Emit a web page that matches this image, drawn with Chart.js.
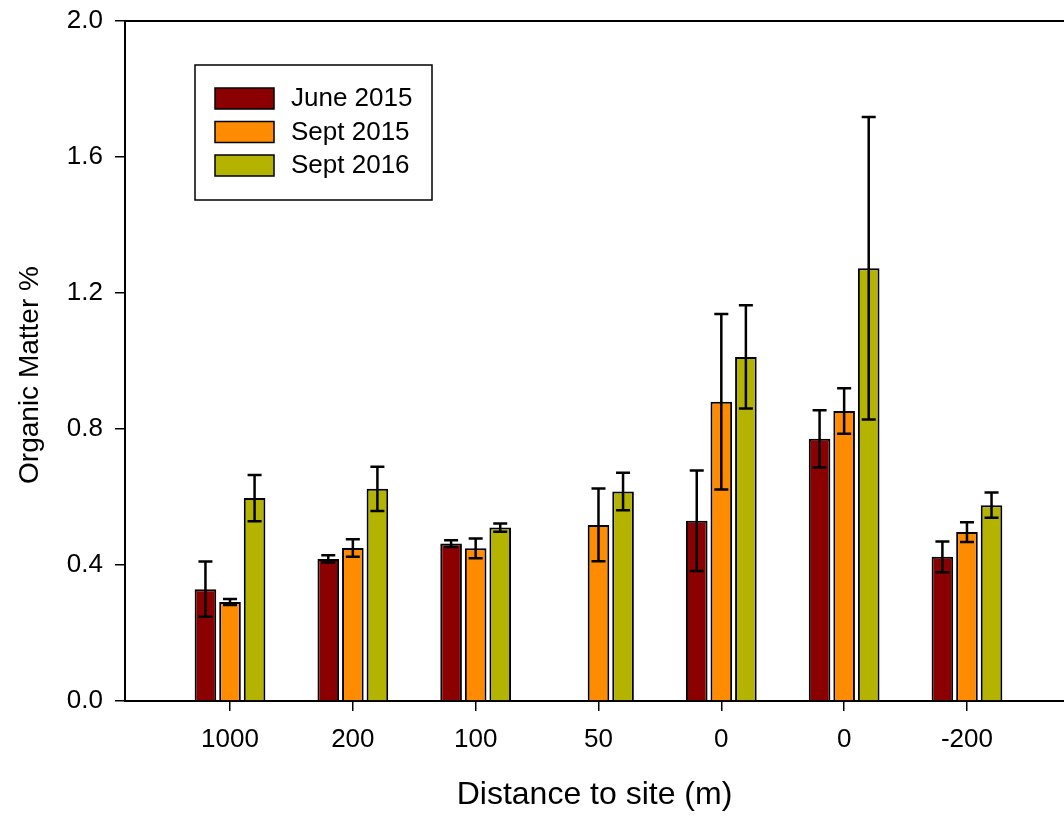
<!DOCTYPE html>
<html>
<head>
<meta charset="utf-8">
<title>Organic Matter %</title>
<script src="https://cdn.jsdelivr.net/npm/chart.js@4"></script>
<style>
  html, body { margin: 0; padding: 0; background: #fff; }
  #wrap { width: 1064px; height: 817px; }
</style>
</head>
<body>
<div id="wrap"><canvas id="chart" width="1064" height="817"></canvas></div>
<script>
// Distance classes along the x axis (the "0" site appears twice)
const categories = ['1000', '200', '100', '50', '0', '0', '-200'];

// Organic matter (%) means and their error half-widths
const june2015 = [0.329, 0.418, 0.463, null, 0.53, 0.771, 0.424];
const june2015Err = [0.081, 0.011, 0.01, null, 0.148, 0.084, 0.045];
const sept2015 = [0.291, 0.45, 0.449, 0.518, 0.88, 0.853, 0.497];
const sept2015Err = [0.009, 0.026, 0.029, 0.107, 0.258, 0.067, 0.029];
const sept2016 = [0.597, 0.624, 0.51, 0.616, 1.012, 1.273, 0.576];
const sept2016Err = [0.068, 0.065, 0.012, 0.055, 0.152, 0.445, 0.037];

const yTicks = [0, 0.4, 0.8, 1.2, 1.6, 2.0];

const FONT = "'Liberation Sans', Arial, sans-serif";

function toPoints(values) {
  return values.map((v, i) => ({ x: i + 1, y: v }));
}

const series = [
  { label: 'June 2015', values: june2015, err: june2015Err, color: '#8b0000' },
  { label: 'Sept 2015', values: sept2015, err: sept2015Err, color: '#ff8c00' },
  { label: 'Sept 2016', values: sept2016, err: sept2016Err, color: '#b4b400' }
];

// error bars with caps at both ends
const errorBars = {
  id: 'errorBars',
  afterDatasetsDraw(chart) {
    const ctx = chart.ctx;
    const y = chart.scales.y;
    ctx.save();
    ctx.strokeStyle = '#000';
    ctx.lineWidth = 2.5;
    chart.data.datasets.forEach((ds, di) => {
      const meta = chart.getDatasetMeta(di);
      meta.data.forEach((bar, i) => {
        const v = series[di].values[i];
        const e = series[di].err[i];
        if (v == null || e == null) return;
        const top = y.getPixelForValue(v + e);
        const bot = y.getPixelForValue(v - e);
        const half = 7;
        ctx.beginPath();
        ctx.moveTo(bar.x, top);
        ctx.lineTo(bar.x, bot);
        ctx.moveTo(bar.x - half, top);
        ctx.lineTo(bar.x + half, top);
        ctx.moveTo(bar.x - half, bot);
        ctx.lineTo(bar.x + half, bot);
        ctx.stroke();
      });
    });
    ctx.restore();
  }
};

// top frame line, y axis title and the boxed legend inside the plot
const frameAndLegend = {
  id: 'frameAndLegend',
  afterDraw(chart) {
    const ctx = chart.ctx;
    const a = chart.chartArea;
    ctx.save();
    ctx.strokeStyle = '#000';
    ctx.lineWidth = 2;
    ctx.beginPath();
    ctx.moveTo(a.left, a.top);
    ctx.lineTo(a.right, a.top);
    ctx.stroke();

    // y title sits a little below the middle of the axis
    ctx.save();
    ctx.translate(30, (a.top + a.bottom) / 2 + 14);
    ctx.rotate(-Math.PI / 2);
    ctx.font = '28px ' + FONT;
    ctx.fillStyle = '#000';
    ctx.textAlign = 'center';
    ctx.textBaseline = 'middle';
    ctx.fillText('Organic Matter %', 0, 0);
    ctx.restore();

    const bx = a.left + 70, by = a.top + 44;
    ctx.lineWidth = 1.5;
    ctx.strokeRect(bx, by, 237, 135);
    ctx.font = '26px ' + FONT;
    ctx.textBaseline = 'middle';
    ctx.textAlign = 'left';
    series.forEach((s, i) => {
      const sy = by + 23 + i * 33.5;
      ctx.fillStyle = s.color;
      ctx.fillRect(bx + 20, sy, 59, 21);
      ctx.strokeRect(bx + 20, sy, 59, 21);
      ctx.fillStyle = '#000';
      ctx.fillText(s.label, bx + 96, sy + 11);
    });
    ctx.restore();
  }
};

new Chart(document.getElementById('chart'), {
  type: 'bar',
  data: {
    datasets: series.map(s => ({
      label: s.label,
      data: toPoints(s.values),
      backgroundColor: s.color,
      borderColor: '#000',
      borderWidth: 2,
      categoryPercentage: 0.6,
      barPercentage: 0.88
    }))
  },
  options: {
    responsive: false,
    animation: false,
    layout: { padding: { top: 21, right: 0, left: 0, bottom: 0 } },
    plugins: {
      legend: { display: false },
      tooltip: { enabled: false }
    },
    scales: {
      x: {
        type: 'linear',
        min: 0.145,
        max: 7.79,
        offset: false,
        afterFit(scale) {
          scale.height = 116;
          scale.paddingLeft = 0;
          scale.paddingRight = 0;
        },
        afterBuildTicks(scale) {
          scale.ticks = categories.map((c, i) => ({ value: i + 1 }));
        },
        ticks: {
          callback: (v, i) => categories[i],
          color: '#000',
          font: { family: FONT, size: 26 },
          padding: 13,
          maxRotation: 0,
          autoSkip: false
        },
        grid: {
          offset: false,
          drawOnChartArea: false,
          drawTicks: true,
          tickLength: 10,
          color: '#000',
          lineWidth: 1.5
        },
        border: { color: '#000', width: 2 },
        title: {
          display: true,
          text: 'Distance to site (m)',
          color: '#000',
          font: { family: FONT, size: 32 },
          padding: { top: 0, bottom: 3 },
          align: 'center'
        }
      },
      y: {
        min: 0,
        max: 2,
        afterFit(scale) {
          scale.width = 125;
          scale.paddingTop = 0;
          scale.paddingBottom = 0;
        },
        afterBuildTicks(scale) {
          scale.ticks = yTicks.map(v => ({ value: v }));
        },
        ticks: {
          callback: v => v.toFixed(1),
          color: '#000',
          font: { family: FONT, size: 26 },
          padding: 12
        },
        grid: {
          drawOnChartArea: false,
          drawTicks: true,
          tickLength: 10,
          color: '#000',
          lineWidth: 1.5
        },
        border: { color: '#000', width: 2 }
      }
    }
  },
  plugins: [errorBars, frameAndLegend]
});
</script>
</body>
</html>
